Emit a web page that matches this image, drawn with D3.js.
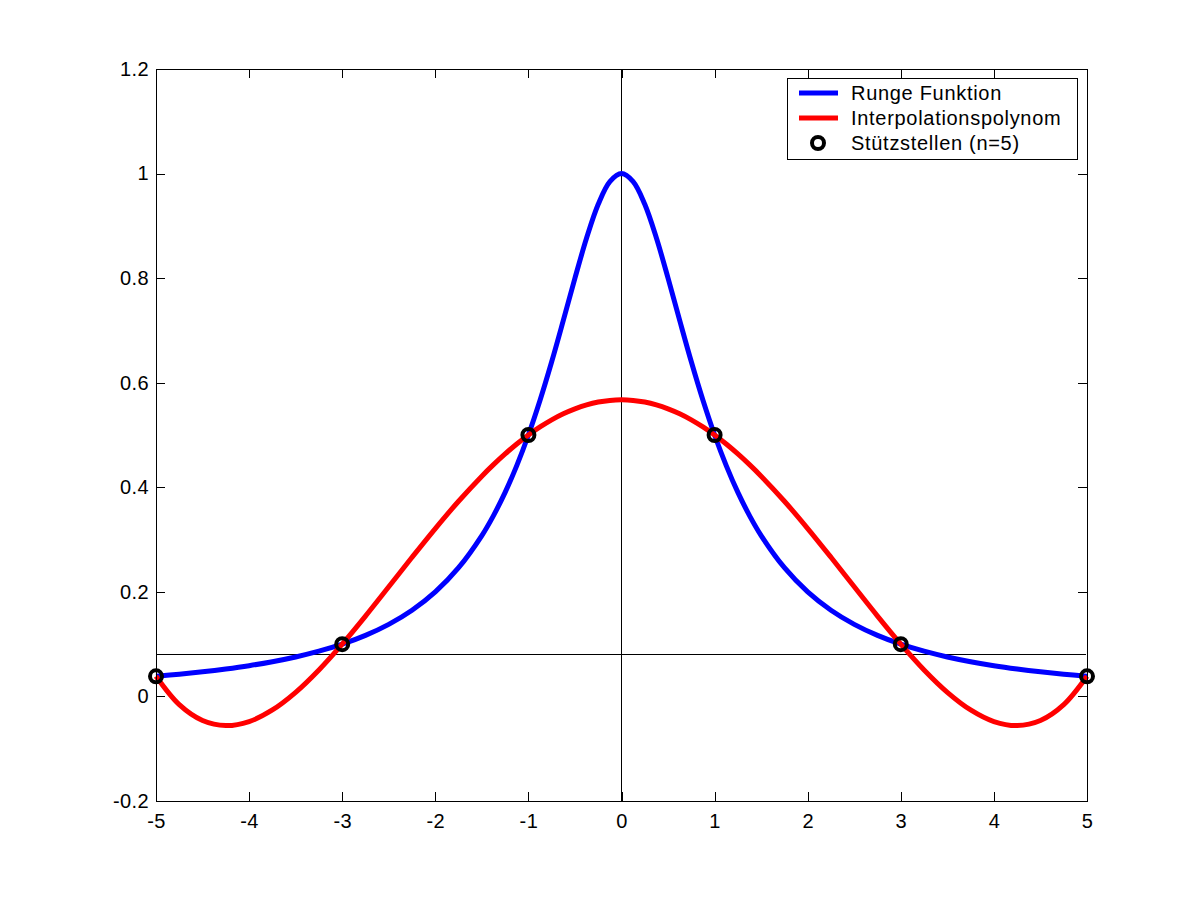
<!DOCTYPE html>
<html>
<head>
<meta charset="utf-8">
<script src="https://cdn.jsdelivr.net/npm/d3@7"></script>
<style>
  body { margin: 0; background: #fff; }
  text { font-family: "Liberation Sans", Arial, sans-serif; }
</style>
</head>
<body>
<div id="chart"></div>
<script>
// sample positions read along the x axis (denser near the peak)
var xValues = [-5, -4.75, -4.5, -4.25, -4, -3.75, -3.5, -3.25, -3, -2.75, -2.5, -2.25, -2,
  -1.75, -1.5, -1.375, -1.25, -1.125, -1, -0.875, -0.75, -0.625, -0.5, -0.375, -0.25, -0.125,
  0, 0.125, 0.25, 0.375, 0.5, 0.625, 0.75, 0.875, 1, 1.125, 1.25, 1.375, 1.5, 1.75, 2,
  2.25, 2.5, 2.75, 3, 3.25, 3.5, 3.75, 4, 4.25, 4.5, 4.75, 5];

// blue curve (Runge Funktion)
var rungeValues = [0.0385, 0.0425, 0.0471, 0.0525, 0.0588, 0.0664, 0.0755, 0.0865, 0.1,
  0.1168, 0.1379, 0.1649, 0.2, 0.2462, 0.3077, 0.3459, 0.3902, 0.4414, 0.5, 0.5664, 0.64,
  0.7191, 0.8, 0.8767, 0.9412, 0.9846, 1, 0.9846, 0.9412, 0.8767, 0.8, 0.7191, 0.64, 0.5664,
  0.5, 0.4414, 0.3902, 0.3459, 0.3077, 0.2462, 0.2, 0.1649, 0.1379, 0.1168, 0.1,
  0.0865, 0.0755, 0.0664, 0.0588, 0.0525, 0.0471, 0.0425, 0.0385];

// red curve (Interpolationspolynom)
var polyValues = [0.0385, -0.0158, -0.0461, -0.0558, -0.0481, -0.0259, 0.0078, 0.0506, 0.1,
  0.1537, 0.2097, 0.2661, 0.3211, 0.3733, 0.4213, 0.4433, 0.4638, 0.4828, 0.5, 0.5154, 0.529,
  0.5406, 0.5501, 0.5576, 0.563, 0.5662, 0.5673, 0.5662, 0.563, 0.5576, 0.5501, 0.5406, 0.529,
  0.5154, 0.5, 0.4828, 0.4638, 0.4433, 0.4213, 0.3733, 0.3211, 0.2661, 0.2097, 0.1537, 0.1,
  0.0506, 0.0078, -0.0259, -0.0481, -0.0558, -0.0461, -0.0158, 0.0385];

// interpolation nodes
var nodeX = [-5, -3, -1, 1, 3, 5];
var nodeY = [0.0385, 0.1, 0.5, 0.5, 0.1, 0.0385];

var xTicks = [-5, -4, -3, -2, -1, 0, 1, 2, 3, 4, 5];
var yTicks = [-0.2, 0, 0.2, 0.4, 0.6, 0.8, 1, 1.2];
var hLineY = 0.08;

var legendLabels = ["Runge Funktion", "Interpolationspolynom", "Stützstellen (n=5)"];

var width = 1201, height = 900;
var plotLeft = 156, plotRight = 1087, plotTop = 69, plotBottom = 801;

var x = d3.scaleLinear().domain([-5, 5]).range([plotLeft, plotRight]);
var y = d3.scaleLinear().domain([-0.2, 1.2]).range([plotBottom, plotTop]);

// plain hyphen minus, like the original
function fmt(d) {
  return String(+d.toFixed(1));
}

var svg = d3.select("#chart").append("svg")
    .attr("width", width)
    .attr("height", height);

// helper lines
svg.append("line")
    .attr("x1", x(0)).attr("x2", x(0))
    .attr("y1", plotTop).attr("y2", plotBottom)
    .attr("stroke", "#000").attr("stroke-width", 1)
    .attr("shape-rendering", "crispEdges");

svg.append("line")
    .attr("x1", x(-5)).attr("x2", x(4.99))
    .attr("y1", y(hLineY)).attr("y2", y(hLineY))
    .attr("stroke", "#000").attr("stroke-width", 1)
    .attr("shape-rendering", "crispEdges");

var line = d3.line()
    .x(function(d) { return x(d[0]); })
    .y(function(d) { return y(d[1]); })
    .curve(d3.curveCatmullRom);

var rungeData = xValues.map(function(v, i) { return [v, rungeValues[i]]; });
var polyData = xValues.map(function(v, i) { return [v, polyValues[i]]; });

svg.append("path")
    .datum(rungeData)
    .attr("d", line)
    .attr("fill", "none")
    .attr("stroke", "#0000ff")
    .attr("stroke-width", 5);

svg.append("path")
    .datum(polyData)
    .attr("d", line)
    .attr("fill", "none")
    .attr("stroke", "#ff0000")
    .attr("stroke-width", 5);

svg.selectAll("circle.node")
    .data(nodeX)
  .enter().append("circle")
    .attr("class", "node")
    .attr("cx", function(d) { return x(d); })
    .attr("cy", function(d, i) { return y(nodeY[i]); })
    .attr("r", 6)
    .attr("fill", "none")
    .attr("stroke", "#000")
    .attr("stroke-width", 4);

// box and ticks
svg.append("rect")
    .attr("x", plotLeft).attr("y", plotTop)
    .attr("width", plotRight - plotLeft).attr("height", plotBottom - plotTop)
    .attr("fill", "none").attr("stroke", "#000").attr("stroke-width", 1)
    .attr("shape-rendering", "crispEdges");

var tickLen = 9;

svg.append("g")
    .attr("transform", "translate(0," + plotBottom + ")")
    .call(d3.axisBottom(x).tickValues(xTicks).tickSizeInner(-tickLen).tickSizeOuter(0)
      .tickPadding(13).tickFormat(fmt))
    .call(function(g) { g.select(".domain").remove(); });

svg.append("g")
    .attr("transform", "translate(0," + plotTop + ")")
    .call(d3.axisTop(x).tickValues(xTicks).tickSizeInner(-tickLen).tickSizeOuter(0).tickFormat(""))
    .call(function(g) { g.select(".domain").remove(); });

svg.append("g")
    .attr("transform", "translate(" + plotLeft + ",0)")
    .call(d3.axisLeft(y).tickValues(yTicks).tickSizeInner(-tickLen).tickSizeOuter(0)
      .tickPadding(7).tickFormat(fmt))
    .call(function(g) { g.select(".domain").remove(); });

svg.append("g")
    .attr("transform", "translate(" + plotRight + ",0)")
    .call(d3.axisRight(y).tickValues(yTicks).tickSizeInner(-tickLen).tickSizeOuter(0).tickFormat(""))
    .call(function(g) { g.select(".domain").remove(); });

svg.selectAll(".tick line")
    .attr("stroke", "#000")
    .attr("shape-rendering", "crispEdges");
svg.selectAll(".tick text")
    .attr("fill", "#000")
    .style("font-size", "20px")
    .style("letter-spacing", "0.4px")
    .style("font-family", "'Liberation Sans', Arial, sans-serif");

// legend
var legend = svg.append("g").attr("class", "legend");

legend.append("rect")
    .attr("x", 787).attr("y", 78)
    .attr("width", 290).attr("height", 81)
    .attr("fill", "#fff").attr("stroke", "#000").attr("stroke-width", 1)
    .attr("shape-rendering", "crispEdges");

var rows = [93, 118, 143];
var legendColors = ["#0000ff", "#ff0000"];

legendColors.forEach(function(c, i) {
  legend.append("line")
      .attr("x1", 799).attr("x2", 838)
      .attr("y1", rows[i]).attr("y2", rows[i])
      .attr("stroke", c).attr("stroke-width", 5);
});

legend.append("circle")
    .attr("cx", 818).attr("cy", rows[2])
    .attr("r", 6)
    .attr("fill", "#fff")
    .attr("stroke", "#000").attr("stroke-width", 4);

legend.selectAll("text")
    .data(legendLabels)
  .enter().append("text")
    .attr("x", 851)
    .attr("y", function(d, i) { return rows[i]; })
    .attr("dy", "0.35em")
    .style("font-size", "20px")
    .style("letter-spacing", "0.7px")
    .text(function(d) { return d; });
</script>
</body>
</html>
